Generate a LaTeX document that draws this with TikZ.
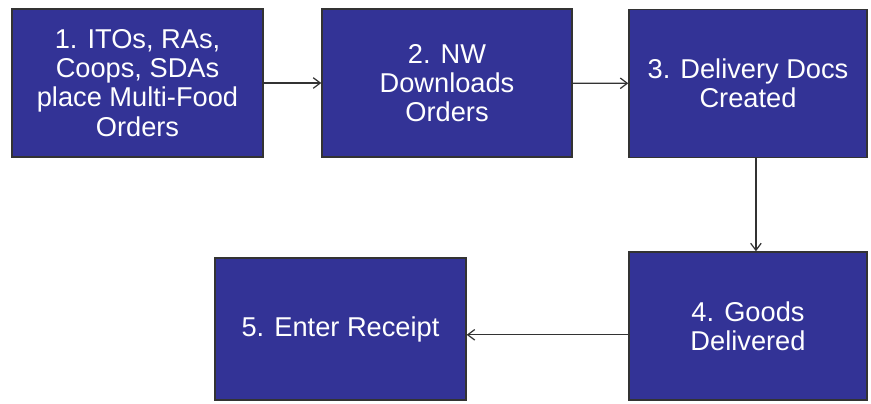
\documentclass[tikz,border=0pt]{standalone}
\usepackage{fontspec}
\setmainfont{Liberation Sans}
\usepackage{xcolor}
\usepackage{tikz}
\usetikzlibrary{positioning,arrows.meta}

\definecolor{stepblue}{RGB}{51,51,150}

\tikzset{
  stepbox/.style={draw=black!80,line width=0.8pt,fill=stepblue,text=white,
    font=\fontsize{15.5}{16.6}\selectfont,align=center,inner sep=0pt},
  flow/.style={-{Straight Barb[length=4pt,width=6pt]},line width=0.7pt,black!80}
}

\begin{document}
\begin{tikzpicture}[x=0.02cm,y=-0.02cm]
  \useasboundingbox (0,0) rectangle (871,403);
  % top row
  \node[stepbox,minimum width=251*0.02cm,minimum height=148*0.02cm] (order) at (137.5,83)
        {1. ITOs, RAs,\\Coops, SDAs\\place Multi-Food\\Orders};
  \node[stepbox,minimum width=250*0.02cm,minimum height=148*0.02cm] (download) at (447,83)
        {2. NW\\Downloads\\Orders};
  \node[stepbox,minimum width=238*0.02cm,minimum height=148*0.02cm] (docs) at (748,83.5)
        {3. Delivery Docs\\Created};
  % bottom row
  \node[stepbox,minimum width=238*0.02cm,minimum height=148*0.02cm] (delivered) at (748,326)
        {4. Goods\\Delivered};
  \node[stepbox,minimum width=251*0.02cm,minimum height=142*0.02cm] (receipt) at (340.5,329)
        {5. Enter Receipt};
  % connectors
  \draw[flow] (order) -- (download);
  \draw[flow] (download) -- (docs);
  \draw[flow] ([xshift=4.5pt]docs.south) -- ([xshift=4.5pt]delivered.north);
  \draw[flow] ([yshift=-5pt]delivered.west) -- ([yshift=-5pt]delivered.west -| receipt.east);
\end{tikzpicture}
\end{document}
